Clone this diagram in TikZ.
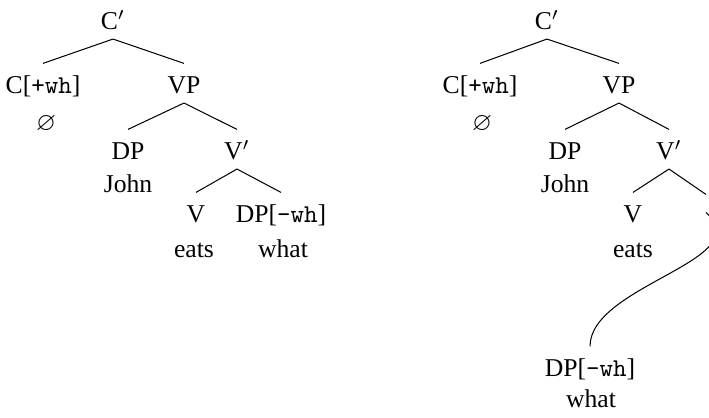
\documentclass[tikz,border=0pt]{standalone}
\usepackage{amssymb}
\usepackage{fontspec}
\setmainfont{Liberation Serif}

\begin{document}
\begin{tikzpicture}[%
x={(0.0137cm,0cm)},
y={(0cm,-0.0137cm)},
cat/.style={anchor=base,inner sep=3.33pt,text height=8.4pt,text depth=0pt},
word/.style={anchor=base,inner sep=0pt},
]

\useasboundingbox (0,0) rectangle (709,418);

%Baum links
\node[cat](C1) at (113,30){C$'$};
\node[cat](Cwh1) at (43,94){C[\texttt{+wh}]};
\node[cat](VP1) at (184,94){VP};
\node[word](null1) at (46,131){$\varnothing$};
\node[cat](DP1) at (128,160){DP};
\node[cat](Vbar1) at (237,160){V$'$};
\node[word](John1) at (128,193){John};
\node[cat](V1) at (196,223){V};
\node[cat](DPwh1) at (281,223){DP[\texttt{-wh}]};
\node[word](eats1) at (194,258){eats};
\node[word](what1) at (283,258){what};

%Baum rechts
\node[cat](C2) at (547,30){C$'$};
\node[cat](Cwh2) at (480,94){C[\texttt{+wh}]};
\node[cat](VP2) at (619,94){VP};
\node[word](null2) at (482,131){$\varnothing$};
\node[cat](DP2) at (565,160){DP};
\node[cat](Vbar2) at (669,160){V$'$};
\node[word](John2) at (565,193){John};
\node[cat](V2) at (633,223){V};
\node[inner sep=0pt,minimum height=0.233cm](tr) at (706,203.5){};
\node[cat](DPwh2) at (590,377){DP[\texttt{-wh}]};
\node[word](eats2) at (633,258){eats};
\node[word](what2) at (591,408){what};

%Kanten
\draw (C1.south) -- (Cwh1.north);
\draw (C1.south) -- (VP1.north);
\draw (VP1.south) -- (DP1.north);
\draw (VP1.south) -- (Vbar1.north);
\draw (Vbar1.south) -- (V1.north);
\draw (Vbar1.south) -- (DPwh1.north);

\draw (C2.south) -- (Cwh2.north);
\draw (C2.south) -- (VP2.north);
\draw (VP2.south) -- (DP2.north);
\draw (VP2.south) -- (Vbar2.north);
\draw (Vbar2.south) -- (V2.north);
\draw (Vbar2.south) -- (tr.north);
\draw (tr.south) .. controls (760,260) and (590,285) .. (DPwh2.north);

\end{tikzpicture}
\end{document}
